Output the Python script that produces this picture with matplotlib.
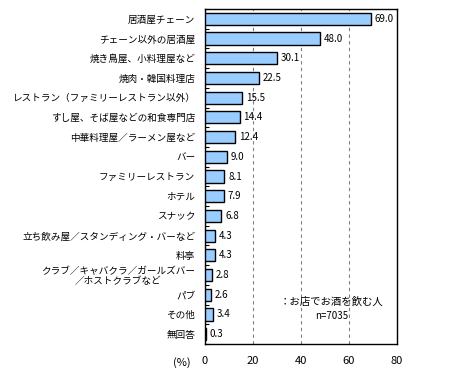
import numpy as np
import matplotlib.pyplot as plt

plt.rcParams['font.family'] = ['Noto Sans CJK JP', 'DejaVu Sans']

categories = [
    "居酒屋チェーン",
    "チェーン以外の居酒屋",
    "焼き鳥屋、小料理屋など",
    "焼肉・韓国料理店",
    "レストラン（ファミリーレストラン以外）",
    "すし屋、そば屋などの和食専門店",
    "中華料理屋／ラーメン屋など",
    "バー",
    "ファミリーレストラン",
    "ホテル",
    "スナック",
    "立ち飲み屋／スタンディング・バーなど",
    "料亭",
    "クラブ／キャバクラ／ガールズバー\n／ホストクラブなど",
    "パブ",
    "その他",
    "無回答",
]
values = [69.0, 48.0, 30.1, 22.5, 15.5, 14.4, 12.4, 9.0, 8.1, 7.9, 6.8,
          4.3, 4.3, 2.8, 2.6, 3.4, 0.3]
xticks = [0, 20, 40, 60, 80]

fig = plt.figure(figsize=(4.6, 3.92), dpi=100)
ax = fig.add_axes([205/460, 1-344/392, 192/460, 335/392])

y = np.arange(len(categories))
ax.barh(y, values, height=0.62, color="#99ccff", edgecolor="black", linewidth=1, zorder=3)
for yi, v in zip(y, values):
    ax.text(v + 1.6, yi, f"{v:.1f}", va="center", ha="left", fontsize=7, zorder=4)

ax.set_xlim(0, 80)
ax.set_ylim(len(categories) - 0.5, -0.5)
ax.set_xticks(xticks)
ax.set_xticklabels([str(t) for t in xticks], fontsize=8)
ax.set_yticks(y)
ax.set_yticklabels(categories, fontsize=6.9, linespacing=1.05)
ax.tick_params(axis="y", length=0, pad=7)
ax.tick_params(axis="x", length=0, pad=9)
ax.set_yticks(np.arange(len(categories) + 1) - 0.5, minor=True)
ax.tick_params(axis="y", which="minor", direction="in", length=3, width=0.8)
for lbl in ax.get_yticklabels():
    if "\n" in lbl.get_text():
        lbl.set_multialignment("center")

ax.grid(axis="x", linestyle=(0, (3, 3)), color="gray", linewidth=0.8, zorder=0)
for s in ax.spines.values():
    s.set_linewidth(1)

ax.text(-0.12, -0.054, "(%)", transform=ax.transAxes, ha="center", va="center", fontsize=8)
ax.text(0.66, 0.125, "：お店でお酒を飲む人", transform=ax.transAxes, ha="center", va="center", fontsize=7.5)
ax.text(0.66, 0.084, "n=7035", transform=ax.transAxes, ha="center", va="center", fontsize=7)

fig.savefig("out.png", dpi=100)
